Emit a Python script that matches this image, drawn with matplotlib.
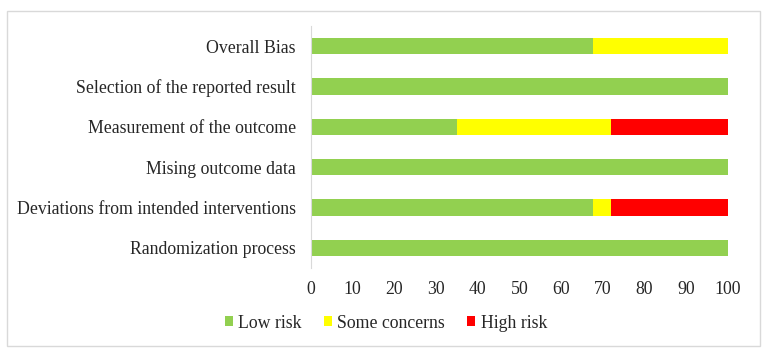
import matplotlib
matplotlib.use("Agg")
import matplotlib.pyplot as plt
from matplotlib.patches import Rectangle

domains = ["Randomization process", "Deviations from intended interventions",
           "Mising outcome data", "Measurement of the outcome",
           "Selection of the reported result", "Overall Bias"]
low_risk = [100, 67.6, 100, 35.0, 100, 67.6]
some_concerns = [0, 4.3, 0, 36.9, 0, 32.4]
high_risk = [0, 28.1, 0, 28.1, 0, 0]

plt.rcParams["font.family"] = ["Liberation Serif", "DejaVu Serif"]

fig = plt.figure(figsize=(7.83, 3.54), dpi=100)
ax = fig.add_axes([311 / 783, 1 - 268 / 354, 417 / 783, 242 / 354])

y = range(len(domains))
left2 = [a for a in low_risk]
left3 = [a + b for a, b in zip(low_risk, some_concerns)]
ax.barh(y, low_risk, height=0.4, color="#92D050", label="Low risk")
ax.barh(y, some_concerns, left=left2, height=0.4, color="#FFFF00", label="Some concerns")
ax.barh(y, high_risk, left=left3, height=0.4, color="#FF0000", label="High risk")

ax.set_xlim(0, 100)
ax.set_ylim(-0.5, 5.5)
ax.set_xticks(range(0, 101, 10))
ax.set_yticks(list(y))
ax.set_yticklabels(domains)
ax.tick_params(axis="both", length=0, labelsize=12.8, colors="#262626")
ax.tick_params(axis="y", pad=11)
ax.tick_params(axis="x", pad=9)
for s in ["top", "right", "bottom"]:
    ax.spines[s].set_visible(False)
ax.spines["left"].set_color("#d9d9d9")

ax.legend(loc="center", bbox_to_anchor=(386 / 783, 1 - 323 / 354),
          bbox_transform=fig.transFigure, ncol=3, frameon=False,
          fontsize=12.8, handlelength=0.45, handleheight=0.45,
          handletextpad=0.3, columnspacing=1.25, labelcolor="#262626")

fig.patches.append(Rectangle((7.5 / 783, 1 - 345.5 / 354), 752.5 / 783, 335 / 354,
                             transform=fig.transFigure, fill=False,
                             edgecolor="#d9d9d9", linewidth=1))

fig.savefig("out.png", dpi=100)
